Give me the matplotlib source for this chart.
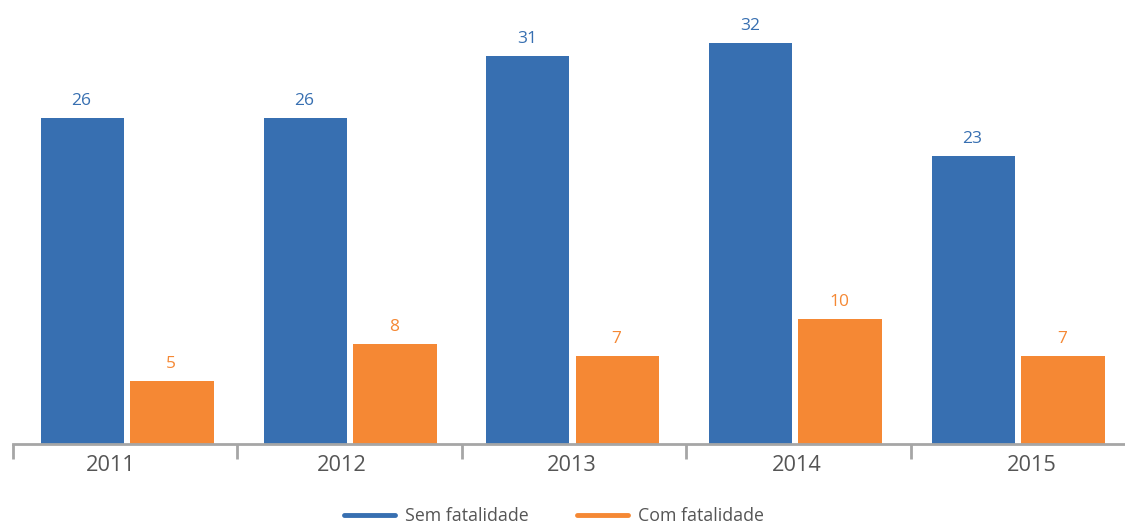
import matplotlib
matplotlib.use("Agg")
import matplotlib.pyplot as plt
from matplotlib.lines import Line2D
import numpy as np

years = ["2011", "2012", "2013", "2014", "2015"]
sem_fatalidade = [26, 26, 31, 32, 23]
com_fatalidade = [5, 8, 7, 10, 7]
series_names = ["Sem fatalidade", "Com fatalidade"]

BLUE = "#376fb1"
ORANGE = "#f58834"
GRAY_TXT = "#555555"
AXIS_GRAY = "#a6a6a6"

plt.rcParams['font.family'] = ['Open Sans', 'DejaVu Sans']

W, H = 1125, 524
fig = plt.figure(figsize=(W / 100, H / 100), dpi=100)
base_px = 444
scale = 12.53
ymax = 35
ax = fig.add_axes([13 / W, (H - base_px) / H, 1122 / W, ymax * scale / H])

x = np.arange(len(years))
pitch = 0.9926  # bar-group pitch relative to category tick spacing
b1 = ax.bar(x * pitch - 0.1903, sem_fatalidade, 0.370, color=BLUE)
b2 = ax.bar(x * pitch + 0.2086, com_fatalidade, 0.374, color=ORANGE)

for rect, v in zip(b1, sem_fatalidade):
    ax.annotate(str(v), (rect.get_x() + rect.get_width() / 2, v), xytext=(-1, 9),
                textcoords="offset pixels", ha="center", va="bottom", color=BLUE, fontsize=12.5)
for rect, v in zip(b2, com_fatalidade):
    ax.annotate(str(v), (rect.get_x() + rect.get_width() / 2, v), xytext=(-1, 9),
                textcoords="offset pixels", ha="center", va="bottom", color=ORANGE, fontsize=12.5)

ax.set_xlim(-0.5, len(years) - 0.5)
ax.set_ylim(0, ymax)
for s in ["top", "right", "left"]:
    ax.spines[s].set_visible(False)
ax.spines["bottom"].set_color(AXIS_GRAY)
ax.spines["bottom"].set_linewidth(2)
ax.set_yticks([])
label_shift = [-0.065, -0.034, -0.009, -0.006, 0.041]
ax.set_xticks(x + np.array(label_shift))
ax.set_xticklabels(years, fontsize=15.7, color=GRAY_TXT)
ax.tick_params(axis="x", which="major", length=0, pad=8)
ax.set_xticks(np.arange(-0.5, len(years)), minor=True)
ax.tick_params(axis="x", which="minor", length=11, width=2, color=AXIS_GRAY)

handles = [Line2D([], [], color=BLUE, lw=3.5, solid_capstyle="round"),
           Line2D([], [], color=ORANGE, lw=3.5, solid_capstyle="round")]
leg = fig.legend(handles, series_names, loc="center", bbox_to_anchor=(554 / W, 8 / H),
                 ncol=2, frameon=False, fontsize=12.8, handlelength=2.88,
                 handletextpad=0.55, columnspacing=2.7, labelcolor=GRAY_TXT)

fig.savefig("out.png", dpi=100)
